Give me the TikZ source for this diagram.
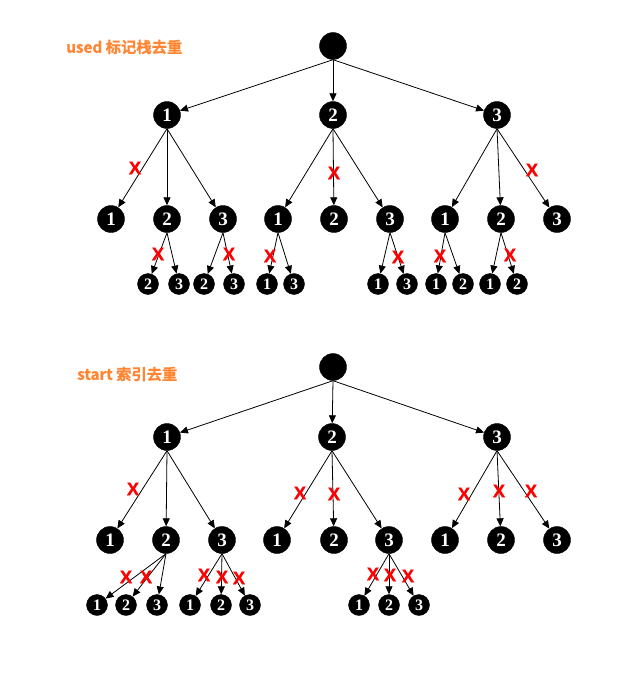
\documentclass[tikz,border=0pt]{standalone}
\usepackage{fontspec}
\setmainfont{Liberation Serif}
\newfontfamily\cjk{Noto Sans CJK SC}[BoldFont={Noto Sans CJK SC Bold},BoldFeatures={FakeBold=0.8}]
\newfontfamily\xfont{Liberation Sans}[BoldFeatures={FakeBold=0.6}]
\usetikzlibrary{arrows.meta}
\definecolor{lblorange}{RGB}{255,133,51}
\begin{document}
\begin{tikzpicture}[x=1pt,y=-1pt,
  big/.style={circle,draw=black,fill=black,minimum size=27pt,inner sep=0pt,text=white,font=\bfseries\fontsize{19}{19}\selectfont},
  small/.style={circle,draw=black,fill=black,minimum size=21pt,inner sep=0pt,text=white,font=\bfseries\fontsize{16}{16}\selectfont},
  edge/.style={draw=black,line width=0.8pt,-{Triangle[length=8pt,width=7pt]}},
  xmark/.style={text=red,inner sep=0pt,font=\xfont\bfseries\fontsize{18.5}{18.5}\selectfont},
  lbl/.style={anchor=west,inner sep=0pt,text=lblorange,font=\cjk\bfseries\fontsize{15.3}{16}\selectfont}]
\useasboundingbox (0,0) rectangle (635,677);
% ---------- top tree ----------
\node[lbl] (t1) at (66,47) {used 标记栈去重};
\node[big] (r) at (333,46) {};
\node[big] (a1) at (167,115) {1};
\node[big] (a2) at (333,115) {2};
\node[big] (a3) at (497,115) {3};
\node[big] (a11) at (111,219) {1};
\node[big] (a12) at (167,219) {2};
\node[big] (a13) at (223,219) {3};
\node[big] (a21) at (278,219) {1};
\node[big] (a22) at (334,219) {2};
\node[big] (a23) at (390,219) {3};
\node[big] (a31) at (445,219) {1};
\node[big] (a32) at (501,219) {2};
\node[big] (a33) at (557,219) {3};
\node[small] (b1) at (148,284) {2};
\node[small] (b2) at (179,284) {3};
\node[small] (b3) at (204,284) {2};
\node[small] (b4) at (234,284) {3};
\node[small] (b5) at (267,284) {1};
\node[small] (b6) at (294,284) {3};
\node[small] (b7) at (378,284) {1};
\node[small] (b8) at (407,284) {3};
\node[small] (b9) at (436,284) {1};
\node[small] (b10) at (463,284) {2};
\node[small] (b11) at (490,284) {1};
\node[small] (b12) at (517,284) {2};
\foreach \c in {a1,a2,a3} \draw[edge] (r.south) -- (\c);
\foreach \p in {1,2,3} \foreach \c in {1,2,3} \draw[edge] (a\p.south) -- (a\p\c);
\draw[edge] (a12.south) -- (b1); \draw[edge] (a12.south) -- (b2);
\draw[edge] (a13.south) -- (b3); \draw[edge] (a13.south) -- (b4);
\draw[edge] (a21.south) -- (b5); \draw[edge] (a21.south) -- (b6);
\draw[edge] (a23.south) -- (b7); \draw[edge] (a23.south) -- (b8);
\draw[edge] (a31.south) -- (b9); \draw[edge] (a31.south) -- (b10);
\draw[edge] (a32.south) -- (b11); \draw[edge] (a32.south) -- (b12);
\node[xmark] (x1) at (135,168) {X};
\node[xmark] (x2) at (334,173) {X};
\node[xmark] (x3) at (532,170) {X};
\node[xmark] (x4) at (158,254) {X};
\node[xmark] (x5) at (229,254) {X};
\node[xmark] (x6) at (270,256) {X};
\node[xmark] (x7) at (398,257) {X};
\node[xmark] (x8) at (440,256) {X};
\node[xmark] (x9) at (510,255) {X};
% ---------- bottom tree ----------
\node[lbl] (t2) at (77,374) {start 索引去重};
\node[big] (R) at (333,367) {};
\node[big] (c1) at (167,437) {1};
\node[big] (c2) at (332,437) {2};
\node[big] (c3) at (497,437) {3};
\node[big] (c11) at (110,540) {1};
\node[big] (c12) at (166,540) {2};
\node[big] (c13) at (222,540) {3};
\node[big] (c21) at (277,540) {1};
\node[big] (c22) at (334,540) {2};
\node[big] (c23) at (389,540) {3};
\node[big] (c31) at (445,540) {1};
\node[big] (c32) at (501,540) {2};
\node[big] (c33) at (557,540) {3};
\node[small] (d1) at (97,605) {1};
\node[small] (d2) at (126,605) {2};
\node[small] (d3) at (157,605) {3};
\node[small] (d4) at (190,605) {1};
\node[small] (d5) at (221,605) {2};
\node[small] (d6) at (250,605) {3};
\node[small] (d7) at (359,605) {1};
\node[small] (d8) at (389,605) {2};
\node[small] (d9) at (419,605) {3};
\foreach \c in {c1,c2,c3} \draw[edge] (R.south) -- (\c);
\foreach \p in {1,2,3} \foreach \c in {1,2,3} \draw[edge] (c\p.south) -- (c\p\c);
\foreach \c in {d1,d2,d3} \draw[edge] (c12.south) -- (\c);
\foreach \c in {d4,d5,d6} \draw[edge] (c13.south) -- (\c);
\foreach \c in {d7,d8,d9} \draw[edge] (c23.south) -- (\c);
\node[xmark] (y1) at (133,489) {X};
\node[xmark] (y2) at (126,577) {X};
\node[xmark] (y3) at (146,577) {X};
\node[xmark] (y4) at (204,575) {X};
\node[xmark] (y5) at (222,577) {X};
\node[xmark] (y6) at (239,578) {X};
\node[xmark] (y7) at (300,493) {X};
\node[xmark] (y8) at (334,494) {X};
\node[xmark] (y9) at (373,574) {X};
\node[xmark] (y10) at (390,575) {X};
\node[xmark] (y11) at (408,576) {X};
\node[xmark] (y12) at (464,494) {X};
\node[xmark] (y13) at (499,491) {X};
\node[xmark] (y14) at (531,491) {X};
\end{tikzpicture}
\end{document}
